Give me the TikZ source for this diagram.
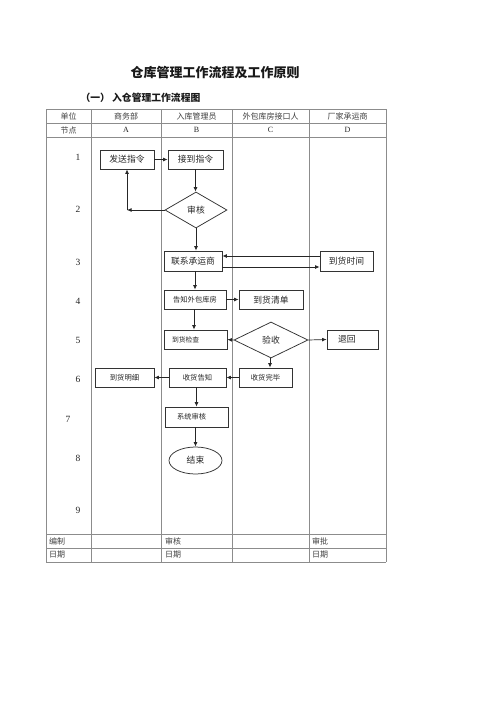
\documentclass[tikz,border=0pt]{standalone}
\usepackage{fontspec}
\setmainfont{Liberation Serif}
\newfontfamily\cjk{Noto Sans CJK SC}
\usetikzlibrary{shapes.geometric,arrows.meta}
\begin{document}
\begin{tikzpicture}[x=1pt,y=-1pt,
  grid/.style={draw=black!45, line width=0.6pt},
  hdr/.style={font=\cjk\fontsize{8}{9}\selectfont, text=black!75, inner sep=0pt},
  num/.style={font=\fontsize{9.5}{10}\selectfont, text=black!85, inner sep=0pt},
  box/.style={draw=black!80, line width=0.75pt, rectangle, inner sep=0pt, text=black!85, font=\cjk\fontsize{8.8}{10}\selectfont},
  sbox/.style={box, font=\cjk\fontsize{7.3}{9}\selectfont},
  dia/.style={draw=black!80, line width=0.75pt, diamond, inner sep=0pt, text=black!85, font=\cjk\fontsize{8.8}{10}\selectfont},
  arr/.style={-{Latex[length=4.5pt,width=3.8pt]}, line width=0.7pt, draw=black!85}]
\useasboundingbox (0,0) rectangle (500,707);
\fill[white] (0,0) rectangle (500,707);

% titles
\node[font=\cjk\bfseries\fontsize{13}{15}\selectfont, text=black!90] (title) at (215,73) {仓库管理工作流程及工作原则};
\node[font=\cjk\bfseries\fontsize{9.8}{12}\selectfont, text=black!90, anchor=west] (sub) at (77,98) {（一） 入仓管理工作流程图};

% table grid
\foreach \yy in {109,123,137,534,548,562} \draw[grid] (46,\yy) -- (386,\yy);
\foreach \xx in {46,91,161,232,309,386} \draw[grid] (\xx,109) -- (\xx,562);

% header
\node[hdr] (h0) at (68.5,116) {单位};
\node[hdr] (h1) at (126,116) {商务部};
\node[hdr] (h2) at (196.5,116) {入库管理员};
\node[hdr] (h3) at (270.5,116) {外包库房接口人};
\node[hdr] (h4) at (347.5,116) {厂家承运商};
\node[hdr] (n0) at (68.5,130) {节点};
\node[num, font=\fontsize{8}{9}\selectfont] (nA) at (126,130) {A};
\node[num, font=\fontsize{8}{9}\selectfont] (nB) at (196.5,130) {B};
\node[num, font=\fontsize{8}{9}\selectfont] (nC) at (270.5,130) {C};
\node[num, font=\fontsize{8}{9}\selectfont] (nD) at (347.5,130) {D};

% row numbers
\node[num] (r1) at (78,157) {1};
\node[num] (r2) at (78,209) {2};
\node[num] (r3) at (78,262) {3};
\node[num] (r4) at (78,301) {4};
\node[num] (r5) at (78,340) {5};
\node[num] (r6) at (78,379) {6};
\node[num] (r7) at (68,419) {7};
\node[num] (r8) at (78,458) {8};
\node[num] (r9) at (78,510) {9};

% footer
\node[hdr, anchor=west] (f1) at (49,541) {编制};
\node[hdr, anchor=west] (f2) at (165,541) {审核};
\node[hdr, anchor=west] (f3) at (312,541) {审批};
\node[hdr, anchor=west] (f4) at (49,555) {日期};
\node[hdr, anchor=west] (f5) at (165,555) {日期};
\node[hdr, anchor=west] (f6) at (312,555) {日期};

% flow nodes
\node[box, minimum width=54pt, minimum height=19pt] (A1) at (127,159.5) {发送指令};
\node[box, minimum width=55pt, minimum height=19pt] (B1) at (195.5,159.5) {接到指令};
\node[dia, minimum width=62pt, minimum height=36pt] (SH) at (196,210) {审核};
\node[box, minimum width=58pt, minimum height=20pt] (B3) at (193,261) {联系承运商};
\node[box, minimum width=53pt, minimum height=20pt] (D3) at (346.5,261) {到货时间};
\node[sbox, minimum width=62pt, minimum height=19pt] (B4) at (195,299.5) {告知外包库房};
\node[box, minimum width=64pt, minimum height=19pt] (C4) at (271,300) {到货清单};
\node[sbox, font=\cjk\fontsize{6.8}{8}\selectfont, inner xsep=8pt, text width=47pt, align=left, minimum height=19pt] (B5) at (195.5,339.5) {到货检查};
\node[dia, minimum width=74pt, minimum height=36pt] (YS) at (271,340) {验收\hspace{10pt}};
\node[box, inner xsep=11pt, text width=29pt, align=left, minimum height=19pt] (D5) at (352.5,339.5) {退回};
\node[sbox, minimum width=53pt, minimum height=19pt] (C6) at (265.5,377.5) {收货完毕};
\node[sbox, minimum width=57pt, minimum height=19pt] (B6) at (197.5,377.5) {收货告知};
\node[sbox, minimum width=59pt, minimum height=19pt] (A6) at (124.5,377.5) {到货明细};
\node[sbox, inner xsep=12pt, text width=39pt, align=left, minimum height=20pt] (B7) at (196.5,417) {系统审核};
\node[draw=black!80, line width=0.75pt, ellipse, inner sep=0pt, minimum width=53pt, minimum height=27pt, text=black!85, font=\cjk\fontsize{8.8}{10}\selectfont] (END) at (195.5,460.5) {结束};

\coordinate (corner) at (A1.south |- SH.west);

% connectors
\draw[arr] (A1.east) -- (B1.west);
\draw[arr] (B1.south) -- (B1.south |- SH.north);
\draw[arr] (SH.west) -- (corner);
\draw[arr] (corner) -- (A1.south);
\draw[arr] (SH.south) -- (SH.south |- B3.north);
\draw[arr] ([yshift=5pt]D3.west) -- ([yshift=5pt]B3.east);
\draw[arr] ([yshift=-6pt]B3.east) -- ([yshift=-6pt]D3.west);
\draw[arr] (B4.north |- B3.south) -- (B4.north);
\draw[arr] (B4.east) -- (B4.east -| C4.west);
\draw[arr] ([xshift=-1pt]B4.south) -- ([xshift=-1pt]B4.south |- B5.north);
\draw[arr] (YS.west) -- (B5.east);
\draw[arr] (YS.east) -- (D5.west);
\draw[arr] ([xshift=-1pt]YS.south) -- ([xshift=-1pt]YS.south |- C6.north);
\draw[arr] (C6.west) -- (B6.east);
\draw[arr] (B6.west) -- (A6.east);
\draw[arr] (B7.north |- B6.south) -- (B7.north);
\draw[arr] (END.north |- B7.south) -- (END.north);
\end{tikzpicture}
\end{document}
